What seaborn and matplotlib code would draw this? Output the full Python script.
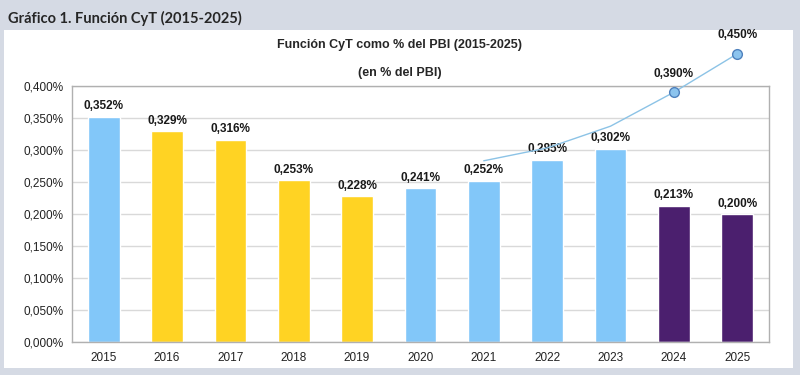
import matplotlib
matplotlib.use('Agg')
import matplotlib.pyplot as plt
import seaborn as sns
from matplotlib.patches import Rectangle
from matplotlib.ticker import FuncFormatter, FixedLocator

years = ['2015', '2016', '2017', '2018', '2019', '2020', '2021', '2022', '2023', '2024', '2025']
valores = [0.352, 0.329, 0.316, 0.253, 0.228, 0.241, 0.252, 0.285, 0.302, 0.213, 0.200]
colores = ['#82C7F9', '#FFD323', '#FFD323', '#FFD323', '#FFD323', '#82C7F9',
           '#82C7F9', '#82C7F9', '#82C7F9', '#4B1F6E', '#4B1F6E']

# linea de tendencia (2021-2025)
linea_years = ['2021', '2022', '2023', '2024', '2025']
linea_vals = [0.283, 0.303, 0.337, 0.390, 0.450]
linea_etiquetas = ['', '', '', '0,390%', '0,450%']

sns.set_style('white')
plt.rcParams['font.family'] = ['Liberation Sans', 'DejaVu Sans']

fig = plt.figure(figsize=(8, 3.75), dpi=100, facecolor='#D5DAE4')
fig.patches.append(Rectangle((0.005, 0.019), 0.986, 0.901, transform=fig.transFigure,
                             facecolor='white', edgecolor='none', zorder=-5))
fig.text(0.01, 0.952, 'Gráfico 1. Función CyT (2015-2025)', fontsize=10.5,
         fontweight='bold', family=['Lato', 'DejaVu Sans'], va='center', ha='left')

ax = fig.add_axes([0.09, 0.088, 0.871, 0.683])
sns.barplot(x=years, y=valores, hue=years, palette=colores, legend=False,
            width=0.5, saturation=1, ax=ax, zorder=2)

fmt = lambda v: f'{v:.3f}%'.replace('.', ',')
for i, v in enumerate(valores):
    ax.annotate(fmt(v), (i, v), xytext=(0, 3), textcoords='offset points',
                ha='center', va='bottom', fontsize=8.5, fontweight='bold', color='#1a1a1a')

pos = [years.index(y) for y in linea_years]
sns.lineplot(x=pos, y=linea_vals, ax=ax, color='#8CC3E6', linewidth=1, zorder=3,
             clip_on=False)
for p, v, lab in zip(pos, linea_vals, linea_etiquetas):
    if lab:
        ax.plot(p, v, 'o', ms=7, mfc='#8CC4EE', mec='#4F81BD', mew=1, clip_on=False, zorder=4)
        ax.annotate(lab, (p, v), xytext=(0, 9), textcoords='offset points',
                    ha='center', va='bottom', fontsize=8.5, fontweight='bold',
                    color='#1a1a1a', annotation_clip=False)

ax.set_ylim(0, 0.4)
ax.set_xlim(-0.5, len(years) - 0.5)
ax.set_yticks([i * 0.05 for i in range(9)])
ax.yaxis.set_major_formatter(FuncFormatter(lambda v, _: fmt(v)))
ax.grid(axis='y', color='#D9D9D9', linewidth=1, zorder=0)
ax.set_axisbelow(True)
for s in ax.spines.values():
    s.set_color('#B0B0B0')
    s.set_linewidth(1)
ax.tick_params(axis='y', length=4, color='#B0B0B0', labelsize=8.5, labelcolor='#222222', pad=2)
ax.tick_params(axis='x', which='major', length=0, labelsize=8.5, labelcolor='#222222', pad=7)
ax.xaxis.set_minor_locator(FixedLocator([i - 0.5 for i in range(len(years) + 1)]))
ax.tick_params(axis='x', which='minor', length=4, color='#B0B0B0')
ax.set_xlabel('')
ax.set_ylabel('')

fig.text(0.499, 0.88, 'Función CyT como % del PBI (2015-2025)', ha='center', va='center',
         fontsize=9, fontweight='bold')
fig.text(0.5, 0.805, '(en % del PBI)', ha='center', va='center', fontsize=9, fontweight='bold')

fig.savefig('out.png', dpi=100, facecolor=fig.get_facecolor())
